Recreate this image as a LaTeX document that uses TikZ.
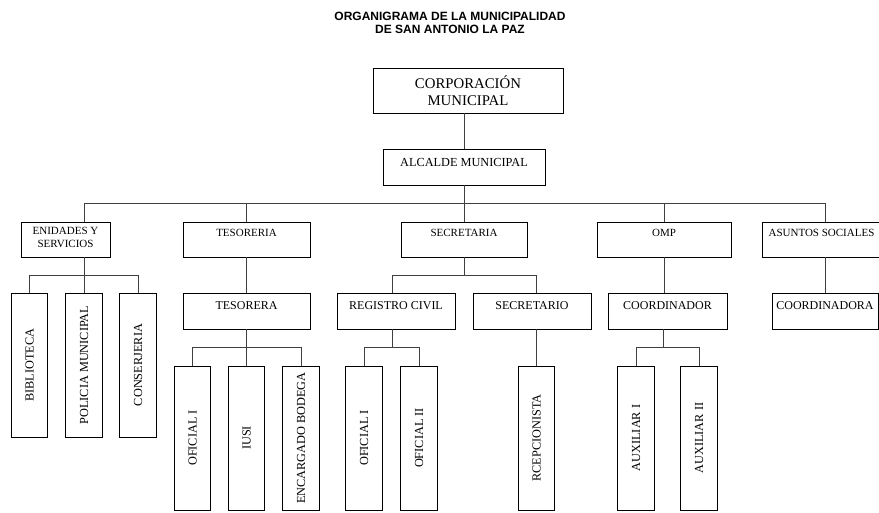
\documentclass[tikz,border=0pt]{standalone}
\usepackage{fontspec}
\setmainfont{Liberation Serif}
\newfontfamily\titlefont{Liberation Sans}

\begin{document}
\begin{tikzpicture}[
  x=1pt, y=-1pt,
  box/.style={draw, line width=0.8pt, inner sep=0pt, align=center},
  jefe/.style={box, font=\fontsize{14.8}{16.5}\selectfont, minimum height=45pt},
  unidad/.style={box, font=\fontsize{11}{13}\selectfont, text height=15pt, text depth=20pt},
  cargo/.style={box, font=\fontsize{12}{13}\selectfont, text height=17pt, text depth=19pt},
  puesto/.style={box, font=\fontsize{12.3}{13}\selectfont, minimum width=36.5pt, minimum height=144pt},
  linea/.style={line width=0.8pt, draw=black!75}
]
\useasboundingbox (0,0) rectangle (879,513);

\node[font=\titlefont\bfseries\fontsize{12}{13}\selectfont, align=center] (titulo) at (450,22.5)
  {ORGANIGRAMA DE LA MUNICIPALIDAD\\DE SAN ANTONIO LA PAZ};

% direccion
\node[jefe, minimum width=190pt] (corporacion) at (468,90.5) {CORPORACIÓN\\MUNICIPAL};
\node[cargo, minimum width=162pt, font=\fontsize{12.3}{13}\selectfont, text height=18pt, text depth=18pt] (alcalde) at (464,167) {ALCALDE MUNICIPAL};

% unidades
\node[unidad, minimum width=89pt, text height=26pt, text depth=9pt] (enidades) at (65.5,239.5) {ENIDADES Y\\SERVICIOS};
\node[unidad, minimum width=127pt] (tesoreria) at (246.5,239.5) {TESORERIA};
\node[unidad, minimum width=126pt] (secretaria) at (464,239.5) {SECRETARIA};
\node[unidad, minimum width=134pt] (omp) at (664,239.5) {OMP};
\node[unidad, minimum width=119pt] (sociales) at (821.5,239.5) {ASUNTOS SOCIALES};

% cargos
\node[cargo, minimum width=127pt] (tesorera) at (246.5,311) {TESORERA};
\node[cargo, minimum width=118pt] (registro) at (396,311) {REGISTRO CIVIL};
\node[cargo, minimum width=118pt] (secretario) at (532,311) {SECRETARIO};
\node[cargo, minimum width=119pt] (coordinador) at (667.5,311) {COORDINADOR};
\node[cargo, minimum width=106pt] (coordinadora) at (825,311) {COORDINADORA};

% puestos
\node[puesto] (biblioteca) at (29.5,365) {\rotatebox{90}{BIBLIOTECA}};
\node[puesto] (policia) at (84,365) {\rotatebox{90}{POLICIA MUNICIPAL}};
\node[puesto] (conserjeria) at (138,365) {\rotatebox{90}{CONSERJERIA}};
\node[puesto] (oficialTa) at (192.5,438) {\rotatebox{90}{OFICIAL I}};
\node[puesto] (iusi) at (246.5,438) {\rotatebox{90}{IUSI}};
\node[puesto] (bodega) at (301,438) {\rotatebox{90}{ENCARGADO BODEGA}};
\node[puesto] (oficialRa) at (364,438) {\rotatebox{90}{OFICIAL I}};
\node[puesto] (oficialRb) at (419,438) {\rotatebox{90}{OFICIAL II}};
\node[puesto] (recepcion) at (536.5,438) {\rotatebox{90}{RCEPCIONISTA}};
\node[puesto] (auxiliarA) at (636,438) {\rotatebox{90}{AUXILIAR I}};
\node[puesto] (auxiliarB) at (699,438) {\rotatebox{90}{AUXILIAR II}};

% lineas de mando
\draw[linea] (alcalde.north) -- (alcalde.north |- corporacion.south);
\draw[linea] (alcalde.south) -- ++(0,18) -| (enidades.north -| policia);
\draw[linea] (alcalde.south) -- ++(0,18) -| (tesoreria.north);
\draw[linea] (alcalde.south) -- (secretaria.north);
\draw[linea] (alcalde.south) -- ++(0,18) -| (omp.north);
\draw[linea] (alcalde.south) -- ++(0,18) -| (sociales.north -| coordinadora);

\draw[linea] (enidades.south -| policia) -- (policia.north);
\draw[linea] (biblioteca.north) -- ++(0,-17) -| (conserjeria.north);

\draw[linea] (tesoreria.south) -- (tesorera.north);
\draw[linea] (tesorera.south) -- ++(0,18) -| (oficialTa.north);
\draw[linea] (tesorera.south) -- ++(0,18) -| (bodega.north);
\draw[linea] (tesorera.south) -- (iusi.north);

\draw[linea] (secretaria.south) -- ++(0,18) -| ([xshift=-4pt]registro.north);
\draw[linea] (secretaria.south) -- ++(0,18) -| (recepcion.north |- secretario.north);
\draw[linea] ([xshift=-4pt]registro.south) -- ++(0,18) -| (oficialRa.north);
\draw[linea] ([xshift=-4pt]registro.south) -- ++(0,18) -| (oficialRb.north);
\draw[linea] (recepcion.north) -- (recepcion.north |- secretario.south);

\draw[linea] (omp.south) -- (omp.south |- coordinador.north);
\draw[linea] ([xshift=-4.5pt]coordinador.south) -- ++(0,18) -| (auxiliarA.north);
\draw[linea] ([xshift=-4.5pt]coordinador.south) -- ++(0,18) -| (auxiliarB.north);

\draw[linea] (coordinadora.north) -- (coordinadora.north |- sociales.south);
\end{tikzpicture}
\end{document}
